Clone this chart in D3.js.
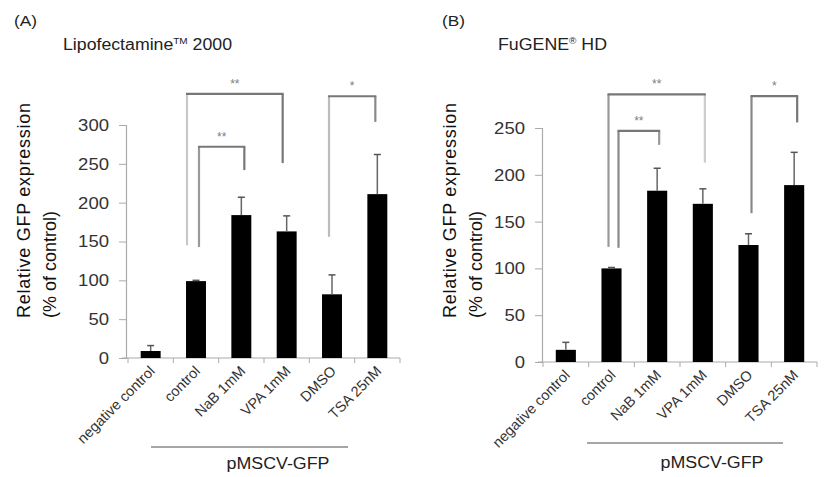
<!DOCTYPE html>
<html><head><meta charset="utf-8">
<script src="https://cdn.jsdelivr.net/npm/d3@7"></script>
<style>
body{margin:0;background:#fff;}
svg{display:block;font-family:Arial,"Liberation Sans",sans-serif;}
</style></head>
<body><svg id="c" width="827" height="477"></svg>
<script>
const categories = ["negative control","control","NaB 1mM","VPA 1mM","DMSO","TSA 25nM"];
const valuesA = [9, 99, 184, 163, 82, 211];
const errorsA = [7, 1, 23, 20, 25, 51];
const valuesB = [13, 100, 183, 169, 125, 189];
const errorsB = [8, 1, 24, 16, 12, 35];
const ticksA = [0, 50, 100, 150, 200, 250, 300];
const ticksB = [0, 50, 100, 150, 200, 250];
const bracketsA = [
  {from:1, to:3, top:340, leftEnd:145, rightEnd:251, label:"**"},
  {from:1, to:2, top:272, leftEnd:143, rightEnd:242, label:"**"},
  {from:4, to:5, top:337, leftEnd:156, rightEnd:304, label:"*"}
];
const bracketsB = [
  {from:1, to:3, top:286, leftEnd:123, rightEnd:213, label:"**"},
  {from:1, to:2, top:247, leftEnd:122, rightEnd:232, label:"**"},
  {from:4, to:5, top:284, leftEnd:159, rightEnd:256, label:"*"}
];
const groupLabel = "pMSCV-GFP";
const yTitle1 = "Relative GFP expression";
const yTitle2 = "(% of control)";

const svg = d3.select("#c");

const panels = [
  {tag:"(A)", tagX:14, title:["Lipofectamine","TM"," 2000"], titleX:63, titleLen:169,
   values:valuesA, errors:errorsA, ticks:ticksA, brackets:bracketsA,
   x0:128, x1:400, axisX:126, yBase:358, yTop:125, yMax:300,
   legDx:[[-9,-4],[3,3],[-3,-2]], legColors:[["#c8c8c8","#777"],["#999","#777"],["#bbb","#888"]],
   yt1X:30, yt2X:56, groupLine:[151,348,447], groupText:[278,469]},
  {tag:"(B)", tagX:442, title:["FuGENE","®"," HD"], titleX:498, titleLen:109,
   values:valuesB, errors:errorsB, ticks:ticksB, brackets:bracketsB,
   x0:543, x1:817, axisX:542, yBase:362, yTop:128, yMax:250,
   legDx:[[-3,2],[7,2],[3,3]], legColors:[["#999","#ccc"],["#888","#999"],["#888","#777"]],
   yt1X:456, yt2X:482, groupLine:[587,783,443], groupText:[712,468]}
];

panels.forEach(p => {
  const g = svg.append("g");
  const x = d3.scaleBand().domain(categories).range([p.x0, p.x1]).paddingInner(0).paddingOuter(0);
  const y = d3.scaleLinear().domain([0, p.yMax]).range([p.yBase, p.yTop]);
  const bw = x.bandwidth() * 0.44;
  const cx = i => x(categories[i]) + x.bandwidth()/2;

  // tag and title
  g.append("text").attr("x", p.tagX).attr("y", 26).attr("font-size", 15).attr("fill","#222")
    .attr("textLength", 23).attr("lengthAdjust","spacingAndGlyphs").text(p.tag);
  const t = g.append("text").attr("x", p.titleX).attr("y", 50).attr("font-size", 16).attr("fill","#222")
    .attr("textLength", p.titleLen).attr("lengthAdjust","spacingAndGlyphs");
  t.append("tspan").text(p.title[0]);
  t.append("tspan").attr("font-size", 9).attr("dy", -6).text(p.title[1]);
  t.append("tspan").attr("dy", 6).text(p.title[2]);

  // y axis
  const ya = d3.axisLeft(y).tickValues(p.ticks).tickSize(7).tickPadding(10).tickFormat(d3.format("d"));
  const yg = g.append("g").attr("transform", `translate(${p.axisX},0)`).call(ya);
  yg.select(".domain").attr("stroke", "#aaa").attr("stroke-width", 1.2);
  yg.selectAll(".tick line").attr("stroke", "#aaa");
  yg.selectAll(".tick text").attr("font-size", 17).attr("fill", "#333")
    .attr("font-family", "Arial, 'Liberation Sans', sans-serif")
    .attr("textLength", d => String(d).length * 10.3).attr("lengthAdjust","spacingAndGlyphs");

  // x axis
  const xg = g.append("g").attr("transform", `translate(0,${p.yBase})`);
  xg.append("line").attr("x1", p.axisX - 4).attr("x2", p.x1).attr("stroke", "#aaa").attr("stroke-width", 1.2);
  const bounds = categories.map(c => x(c)).concat([p.x1]);
  xg.selectAll("line.tk").data(bounds).join("line").attr("class","tk")
    .attr("x1", d => d).attr("x2", d => d).attr("y1", 0).attr("y2", 5).attr("stroke", "#aaa");
  xg.selectAll("text.cat").data(categories).join("text").attr("class","cat")
    .attr("transform", (d,i) => `translate(${cx(i)+5},${14}) rotate(-45)`)
    .attr("text-anchor", "end").attr("font-size", 14.5).attr("fill", "#333").text(d => d);

  // bars
  g.selectAll("rect.bar").data(p.values).join("rect").attr("class","bar")
    .attr("x", (d,i) => cx(i) - bw/2).attr("width", bw)
    .attr("y", d => y(d)).attr("height", d => p.yBase - y(d)).attr("fill", "#000");

  // error bars
  const eg = g.selectAll("g.err").data(p.values).join("g").attr("class","err");
  eg.append("line").attr("x1", (d,i) => cx(i)).attr("x2", (d,i) => cx(i))
    .attr("y1", d => y(d)).attr("y2", (d,i) => y(d + p.errors[i])).attr("stroke", "#666").attr("stroke-width", 1.5);
  eg.append("line").attr("x1", (d,i) => cx(i) - 3.5).attr("x2", (d,i) => cx(i) + 3.5)
    .attr("y1", (d,i) => y(d + p.errors[i])).attr("y2", (d,i) => y(d + p.errors[i])).attr("stroke", "#555").attr("stroke-width", 1.5);

  // significance brackets
  p.brackets.forEach((b, k) => {
    const xl = cx(b.from) + p.legDx[k][0], xr = cx(b.to) + p.legDx[k][1];
    const yt = y(b.top);
    g.append("line").attr("x1", xl).attr("x2", xl).attr("y1", yt).attr("y2", y(b.leftEnd))
      .attr("stroke", p.legColors[k][0]).attr("stroke-width", 2.2);
    g.append("line").attr("x1", xr).attr("x2", xr).attr("y1", yt).attr("y2", y(b.rightEnd))
      .attr("stroke", p.legColors[k][1]).attr("stroke-width", 2.2);
    g.append("line").attr("x1", xl - 1).attr("x2", xr + 1).attr("y1", yt).attr("y2", yt)
      .attr("stroke", "#777").attr("stroke-width", 2.2);
    g.append("text").attr("x", (xl + xr)/2).attr("y", yt - 6).attr("text-anchor", "middle")
      .attr("font-size", 12).attr("fill", "#808080").text(b.label);
  });

  // y titles
  const yMid = 318;
  g.append("text").attr("transform", `translate(${p.yt1X},${yMid}) rotate(-90)`)
    .attr("font-size", 18).attr("fill", "#111").attr("textLength", 215).attr("lengthAdjust", "spacing").text(yTitle1);
  g.append("text").attr("transform", `translate(${p.yt2X},${yMid}) rotate(-90)`)
    .attr("font-size", 18).attr("fill", "#111").text(yTitle2);

  // group label
  g.append("line").attr("x1", p.groupLine[0]).attr("x2", p.groupLine[1]).attr("y1", p.groupLine[2]).attr("y2", p.groupLine[2])
    .attr("stroke", "#888").attr("stroke-width", 1.5);
  g.append("text").attr("x", p.groupText[0]).attr("y", p.groupText[1]).attr("text-anchor", "middle")
    .attr("font-size", 16).attr("fill", "#222").attr("textLength", 103).attr("lengthAdjust","spacingAndGlyphs").text(groupLabel);
});
</script></body></html>
